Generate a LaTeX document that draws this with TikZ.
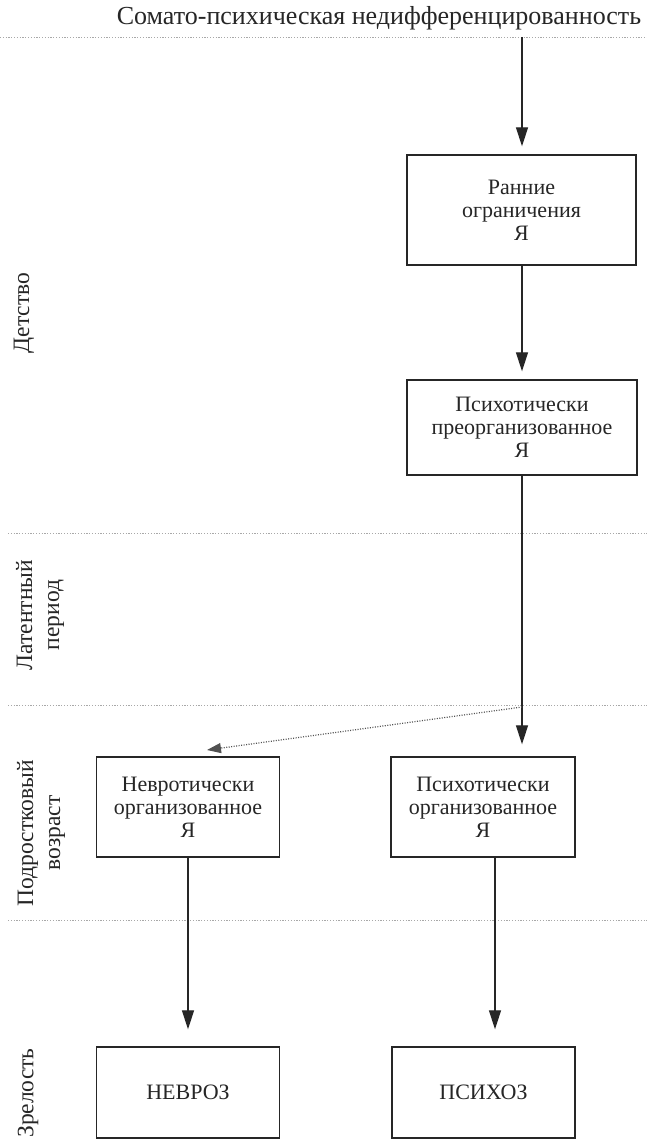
\documentclass[tikz,border=0pt]{standalone}
\usepackage{fontspec}
\setmainfont{Liberation Serif}
\usetikzlibrary{arrows.meta,calc}
\definecolor{ink}{HTML}{262626}
\definecolor{rule}{HTML}{A8A8A8}
\begin{document}
\begin{tikzpicture}[x=1pt,y=-1pt,
  stagebox/.style={draw=ink, line width=1.4pt, align=center, text=ink,
    font=\fontsize{22}{23}\selectfont, inner sep=0pt},
  flow/.style={-{Triangle[length=19pt,width=12pt]}, line width=1.2pt, draw=ink},
  hintflow/.style={-{Triangle[length=14pt,width=10pt]}, line width=1.2pt, draw=ink!80,
    dash pattern=on 1pt off 1.5pt},
  period/.style={rotate=90, align=center, text=ink, font=\fontsize{23.5}{27}\selectfont},
  sepline/.style={draw=rule, line width=0.9pt, dash pattern=on 1.2pt off 1.6pt}
]
\useasboundingbox (0,0) rectangle (647,1141);
\fill[white] (0,0) rectangle (647,1141);

% title and period separators
\node[text=ink, font=\fontsize{26}{28}\selectfont] (title) at (379,18) {Сомато-психическая недифференцированность};
\draw[sepline] (0,37) -- (647,37);
\draw[sepline] (8,533) -- (647,533);
\draw[sepline] (8,705) -- (647,705);
\draw[sepline] (8,920) -- (647,920);

% age periods
\node[period] (p1) at (24,313) {Детство};
\node[period] (p2) at (40,615) {Латентный\\период};
\node[period] (p3) at (41,833) {Подростковый\\возраст};
\node[period] (p4) at (28,1093) {Зрелость};

% stages
\node[stagebox, minimum width=229pt, minimum height=110pt] (early) at (521.5,210) {Ранние\\ограничения\\Я};
\node[stagebox, minimum width=230pt, minimum height=95pt] (preorg) at (522,427.5) {Психотически\\преорганизованное\\Я};
\node[stagebox, minimum width=183pt, minimum height=100pt] (neur) at (188,807) {Невротически\\организованное\\Я};
\node[stagebox, minimum width=184pt, minimum height=100pt] (psych) at (483,807) {Психотически\\организованное\\Я};
\node[stagebox, minimum width=183pt, minimum height=91pt] (neurosis) at (188,1092.5) {НЕВРОЗ};
\node[stagebox, minimum width=183pt, minimum height=91pt] (psychosis) at (483.5,1092.5) {ПСИХОЗ};

% connectors
\coordinate (start) at (522,37);
\coordinate (split) at (522,707);
\coordinate (tipL) at (207,750);
\draw[flow, shorten >=8pt] (start) -- (early.north -| start);
\draw[flow, shorten >=8pt] (early.south -| start) -- (preorg.north -| start);
\draw[flow, shorten >=12pt] (preorg.south -| start) -- (psych.north -| start);
\draw[hintflow] (split) -- (tipL);
\draw[flow, shorten >=17pt] (neur.south) -- (neurosis.north);
\draw[flow, shorten >=17pt] ([xshift=12pt]psych.south) -- ([xshift=12pt]psych.south |- psychosis.north);
\end{tikzpicture}
\end{document}
